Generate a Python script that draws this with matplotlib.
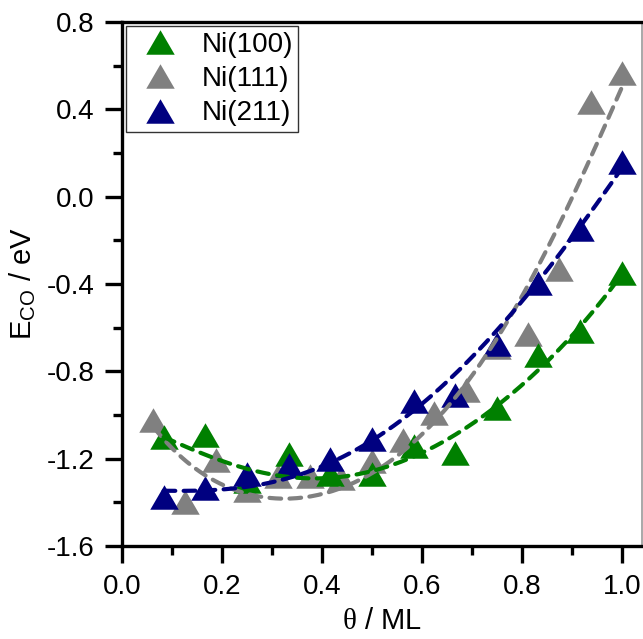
import numpy as np
import matplotlib
matplotlib.use("Agg")
import matplotlib.pyplot as plt
from matplotlib.path import Path
from matplotlib.ticker import MultipleLocator, FuncFormatter

plt.rcParams["font.family"] = ["Liberation Sans", "DejaVu Sans"]
plt.rcParams["mathtext.fontset"] = "custom"
plt.rcParams["mathtext.rm"] = "Liberation Sans"
plt.rcParams["mathtext.sf"] = "Liberation Serif"

# CO binding energy vs. coverage for three nickel facets
theta_100 = [1/12, 2/12, 3/12, 4/12, 5/12, 6/12, 7/12, 8/12, 9/12, 10/12, 11/12, 1.0]
e_100 = [-1.10, -1.09, -1.30, -1.18, -1.27, -1.27, -1.14, -1.175, -0.97, -0.725, -0.615, -0.35]

theta_111 = [1/16, 2/16, 3/16, 4/16, 5/16, 6/16, 7/16, 8/16, 9/16, 10/16,
             11/16, 12/16, 13/16, 14/16, 15/16, 1.0]
e_111 = [-1.025, -1.40, -1.205, -1.345, -1.28, -1.28, -1.29, -1.21, -1.115, -0.99,
         -0.885, -0.69, -0.63, -0.33, 0.435, 0.565]

theta_211 = [1/12, 2/12, 3/12, 4/12, 5/12, 6/12, 7/12, 8/12, 9/12, 10/12, 11/12, 1.0]
e_211 = [-1.375, -1.335, -1.27, -1.23, -1.20, -1.11, -0.935, -0.91, -0.675, -0.395, -0.15, 0.16]

# Published trend lines, sampled along each curve
trend_100_theta = [0.083, 0.124, 0.16, 0.20, 0.24, 0.28, 0.32, 0.366, 0.442, 0.512, 0.556,
                   0.622, 0.662, 0.692, 0.766, 0.796, 0.83, 0.87, 0.906, 0.94, 0.962,
                   0.986, 1.0]
trend_100_e = [-1.11, -1.129, -1.17, -1.215, -1.243, -1.266, -1.284, -1.289, -1.284, -1.238,
               -1.215, -1.147, -1.10, -1.055, -0.93, -0.877, -0.81, -0.69, -0.625, -0.533,
               -0.473, -0.396, -0.36]

trend_111_theta = [0.0625, 0.094, 0.134, 0.194, 0.266, 0.33, 0.40, 0.47, 0.61, 0.656,
                   0.716, 0.756, 0.79, 0.826, 0.846, 0.87, 0.89, 0.912, 0.93, 0.95,
                   0.966, 0.982, 1.0]
trend_111_e = [-1.05, -1.15, -1.215, -1.307, -1.376, -1.38, -1.367, -1.30, -1.07, -0.93,
               -0.762, -0.67, -0.505, -0.336, -0.244, -0.139, -0.047, 0.044, 0.136, 0.227,
               0.314, 0.42, 0.50]

trend_211_theta = [0.083, 0.10, 0.14, 0.21, 0.294, 0.38, 0.456, 0.522, 0.556, 0.622,
                   0.682, 0.806, 0.842, 0.89, 0.932, 0.956, 0.982, 1.0]
trend_211_e = [-1.35, -1.344, -1.344, -1.344, -1.31, -1.252, -1.174, -1.078, -1.032, -0.909,
               -0.78, -0.464, -0.345, -0.23, -0.093, -0.015, 0.076, 0.13]

labels = ["Ni(100)", "Ni(111)", "Ni(211)"]
colors = ["#008000", "#808080", "#000080"]

# Equilateral-looking triangle marker, centred on its bounding box
tri = Path([(0, 0.86), (-1, -0.86), (1, -0.86), (0, 0.86)],
           [Path.MOVETO, Path.LINETO, Path.LINETO, Path.CLOSEPOLY])

fig = plt.figure(figsize=(6.43, 6.39), dpi=100)
ax = fig.add_axes([0.19, 0.1455, 0.808, 0.82])

series = [(theta_100, e_100), (theta_111, e_111), (theta_211, e_211)]
order = [1, 0, 2]
handles = [None] * 3
for i in order:
    x, y = series[i]
    h, = ax.plot(x, y, linestyle="none", marker=tri, markersize=20.5,
                 color=colors[i], markeredgewidth=0, label=labels[i], zorder=2 + order.index(i))
    handles[i] = h

# Smooth dashed trend lines (polynomial smoothing of the sampled curves)
trends = [(trend_100_theta, trend_100_e), (trend_111_theta, trend_111_e),
          (trend_211_theta, trend_211_e)]
for i in order:
    fx, fy = np.asarray(trends[i][0]), np.asarray(trends[i][1])
    coef = np.polyfit(fx, fy, 5)
    xs = np.linspace(fx.min(), fx.max(), 200)
    ax.plot(xs, np.polyval(coef, xs), linestyle=(0, (2.8, 2.0)), linewidth=3,
            color=colors[i], zorder=6, dash_capstyle="round")

ax.set_xlim(0, 1.04)
ax.set_ylim(-1.6, 0.8)
ax.xaxis.set_major_locator(MultipleLocator(0.2))
ax.xaxis.set_minor_locator(MultipleLocator(0.1))
ax.yaxis.set_major_locator(MultipleLocator(0.4))
ax.yaxis.set_minor_locator(MultipleLocator(0.2))
fmt = FuncFormatter(lambda v, p: f"{v:.1f}")
ax.xaxis.set_major_formatter(fmt)
ax.yaxis.set_major_formatter(fmt)

ax.tick_params(which="major", direction="out", length=12, width=2.4, labelsize=20, pad=8)
ax.tick_params(which="minor", direction="out", length=6.5, width=2.4)
ax.tick_params(top=False, right=False)

for s in ["left", "bottom", "top"]:
    ax.spines[s].set_linewidth(2.4)
    ax.spines[s].set_color("black")
ax.spines["right"].set_linewidth(1.2)
ax.spines["right"].set_color("#999999")

ax.set_xlabel(r"$\mathsf{\theta}$ / ML", fontsize=21, labelpad=5)
ax.set_ylabel(r"E$_\mathregular{CO}$ / eV", fontsize=21, labelpad=6)

leg = ax.legend(handles=handles, loc="upper left", fontsize=20, frameon=True,
                fancybox=False, edgecolor="black", borderaxespad=0.15,
                handletextpad=0.5, labelspacing=0.3, borderpad=0.2,
                handlelength=2.0)
leg.get_frame().set_linewidth(1.0)

fig.savefig("out.png", dpi=100, facecolor="white")
